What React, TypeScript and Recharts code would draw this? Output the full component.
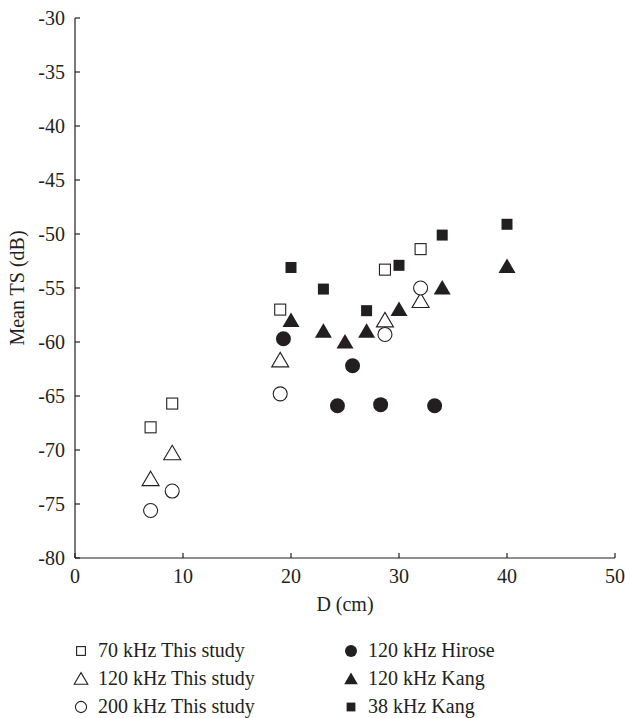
import React from 'react';
import { ScatterChart, Scatter, XAxis, YAxis } from 'recharts';

// distances (cm) and mean TS (dB)
const thisStudyD = [7, 9, 19, 28.7, 32];
const ts70 = [-67.9, -65.7, -57, -53.3, -51.4];
const ts120 = [-72.7, -70.3, -61.7, -58, -56.2];
const ts200 = [-75.6, -73.8, -64.8, -59.3, -55];

const hiroseD = [19.3, 24.3, 25.7, 28.3, 33.3];
const hiroseTs = [-59.7, -65.9, -62.2, -65.8, -65.9];

const kang120D = [20, 23, 25, 27, 30, 34, 40];
const kang120Ts = [-58, -59, -60, -59, -57, -55, -53];

const kang38D = [20, 23, 27, 30, 34, 40];
const kang38Ts = [-53.1, -55.1, -57.1, -52.9, -50.1, -49.1];

const xTicks = [0, 10, 20, 30, 40, 50];
const yTicks = [-80, -75, -70, -65, -60, -55, -50, -45, -40, -35, -30];

const INK = '#231f20';
const FONT = '"Liberation Serif", "DejaVu Serif", serif';

const pts = (xs: number[], ys: number[]) => xs.map((x, i) => ({ x, y: ys[i] }));

type Kind = 'openSquare' | 'openTriangle' | 'openCircle' | 'circle' | 'triangle' | 'square';

function Marker({ kind, cx, cy, s = 1 }: { kind: Kind; cx: number; cy: number; s?: number }) {
  const sw = 1.1;
  const tri = `${cx},${cy - 8 * s} ${cx + 8.5 * s},${cy + 6.5 * s} ${cx - 8.5 * s},${cy + 6.5 * s}`;
  switch (kind) {
    case 'openSquare':
      return <rect x={cx - 5.5 * s} y={cy - 5.5 * s} width={11 * s} height={11 * s} fill="#fff" stroke={INK} strokeWidth={sw} />;
    case 'square':
      return <rect x={cx - 5.5 * s} y={cy - 5.5 * s} width={11 * s} height={11 * s} fill={INK} />;
    case 'openCircle':
      return <circle cx={cx} cy={cy} r={7 * s} fill="#fff" stroke={INK} strokeWidth={sw} />;
    case 'circle':
      return <circle cx={cx} cy={cy} r={7.5 * s} fill={INK} />;
    case 'openTriangle':
      return <polygon points={tri} fill="#fff" stroke={INK} strokeWidth={sw} />;
    default:
      return <polygon points={tri} fill={INK} />;
  }
}

const series: { name: string; kind: Kind; data: { x: number; y: number }[] }[] = [
  { name: '70 kHz This study', kind: 'openSquare', data: pts(thisStudyD, ts70) },
  { name: '120 kHz This study', kind: 'openTriangle', data: pts(thisStudyD, ts120) },
  { name: '200 kHz This study', kind: 'openCircle', data: pts(thisStudyD, ts200) },
  { name: '120 kHz Hirose', kind: 'circle', data: pts(hiroseD, hiroseTs) },
  { name: '120 kHz Kang', kind: 'triangle', data: pts(kang120D, kang120Ts) },
  { name: '38 kHz Kang', kind: 'square', data: pts(kang38D, kang38Ts) },
];

const tickStyle = { fill: INK, fontSize: 20, fontFamily: FONT };

export default function App() {
  return (
    <div style={{ position: 'absolute', left: 0, top: 0, width: 625, height: 718, background: '#fff', fontFamily: FONT }}>
      <ScatterChart width={625} height={718} margin={{ top: 18, right: 10, bottom: 130, left: 0 }}>
        <XAxis
          type="number"
          dataKey="x"
          domain={[0, 50]}
          ticks={xTicks}
          height={30}
          stroke={INK}
          strokeWidth={1.2}
          tickSize={-5}
          tickMargin={16}
          tick={tickStyle}
          label={{ value: 'D (cm)', position: 'bottom', offset: 9, fill: INK, fontSize: 20, fontFamily: FONT }}
        />
        <YAxis
          type="number"
          dataKey="y"
          domain={[-80, -30]}
          ticks={yTicks}
          width={75}
          stroke={INK}
          strokeWidth={1.2}
          tickSize={-5}
          tickMargin={15}
          tick={tickStyle}
          label={{
            value: 'Mean TS (dB)',
            angle: -90,
            position: 'insideLeft',
            offset: 17,
            fill: INK,
            fontSize: 20,
            fontFamily: FONT,
            style: { textAnchor: 'middle' },
          }}
        />
        {series.map((s) => (
          <Scatter
            key={s.name}
            name={s.name}
            data={s.data}
            isAnimationActive={false}
            shape={(p: any) => <Marker kind={s.kind} cx={p.cx} cy={p.cy} />}
          />
        ))}
      </ScatterChart>
      <div style={{ position: 'absolute', left: 0, top: 636, width: 625 }}>
        {series.map((s, i) => {
          const col = i < 3 ? 0 : 1;
          const row = i % 3;
          return (
            <div
              key={s.name}
              style={{
                position: 'absolute',
                left: col === 0 ? 70 : 340,
                top: row * 28,
                height: 28,
                display: 'flex',
                alignItems: 'center',
                color: INK,
                fontSize: 20,
                whiteSpace: 'nowrap',
              }}
            >
              <svg width={22} height={22} style={{ marginRight: 6 }}>
                <Marker kind={s.kind} cx={11} cy={12} s={0.8} />
              </svg>
              {s.name}
            </div>
          );
        })}
      </div>
    </div>
  );
}
